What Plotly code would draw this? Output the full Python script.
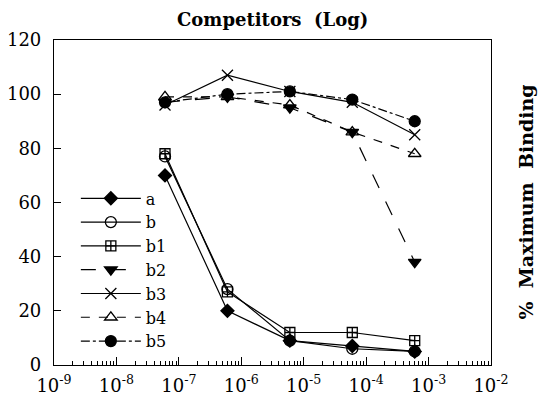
import plotly.graph_objects as go

conc = [6e-8, 6e-7, 6e-6, 6e-5, 6e-4]
a = [70, 20, 9, 7, 5]
b = [77, 28, 9, 6, 5]
b1 = [78, 27, 12, 12, 9]
b2 = [97, 99, 95, 86, 38]
b3 = [96, 107, 101, 97, 85]
b4 = [99, 99, 96, 86, 78]
b5 = [97, 100, 101, 98, 90]

tick_vals = [1e-9, 1e-8, 1e-7, 1e-6, 1e-5, 1e-4, 1e-3, 1e-2]
tick_text = ["10<sup>-9</sup>", "10<sup>-8</sup>", "10<sup>-7</sup>", "10<sup>-6</sup>",
             "10<sup>-5</sup>", "10<sup>-4</sup>", "10<sup>-3</sup>", "10<sup>-2</sup>"]
minor_vals = [m * d for d in tick_vals[:-1] for m in range(2, 10)]

FONT = "DejaVu Serif"
series = [
    ("a", a, "diamond", "solid", 10),
    ("b", b, "circle-open", "solid", 11),
    ("b1", b1, "square-cross-open", "solid", 10),
    ("b2", b2, "triangle-down", "longdash", 11),
    ("b3", b3, "x-thin-open", "solid", 11),
    ("b4", b4, "triangle-up-open", "dash", 11),
    ("b5", b5, "circle", "dashdot", 11),
]

fig = go.Figure()
for name, vals, sym, dash, size in series:
    fig.add_trace(go.Scatter(
        x=conc, y=vals, name=name, mode="lines+markers",
        line=dict(color="black", width=1.2, dash=dash),
        marker=dict(symbol=sym, size=size, color="black",
                    line=dict(color="black", width=1.3)),
    ))

fig.update_layout(
    width=543, height=394,
    margin=dict(l=46, r=60, t=32, b=37),
    paper_bgcolor="white", plot_bgcolor="white",
    font=dict(family=FONT, size=18, color="black"),
    showlegend=True,
    legend=dict(x=0.05, y=0.565, xanchor="left", yanchor="top",
                bgcolor="rgba(0,0,0,0)", itemwidth=60,
                font=dict(family=FONT, size=16), tracegroupgap=0),
    xaxis=dict(type="log", range=[-9, -2], tickvals=tick_vals, ticktext=tick_text,
               ticks="inside", ticklen=8, tickwidth=1, tickcolor="black",
               showline=True, linecolor="black", linewidth=1.2, mirror=True,
               showgrid=False, zeroline=False, ticklabelstandoff=4, automargin=False,
               minor=dict(tickvals=minor_vals, ticks="inside", ticklen=4,
                          tickcolor="black", showgrid=False),
               tickfont=dict(family=FONT, size=18)),
    yaxis=dict(range=[0, 120], dtick=20, ticks="inside", ticklen=7, tickcolor="black",
               showline=True, linecolor="black", linewidth=1.2, mirror=True,
               showgrid=False, zeroline=False, ticklabelstandoff=8, automargin=False,
               tickfont=dict(family=FONT, size=18)),
    annotations=[
        dict(text="<b>Competitors  (Log)</b>", xref="paper", yref="paper",
             x=0.5, y=1.0, yshift=21, showarrow=False, xanchor="center", yanchor="middle",
             font=dict(family=FONT, size=18)),
        dict(text="<b>%  Maximum  Binding</b>", xref="paper", yref="paper",
             x=1.0, xshift=34, y=0.5, textangle=-90, showarrow=False,
             xanchor="center", yanchor="middle", font=dict(family=FONT, size=19)),
    ],
)

fig.write_html("out.html")
